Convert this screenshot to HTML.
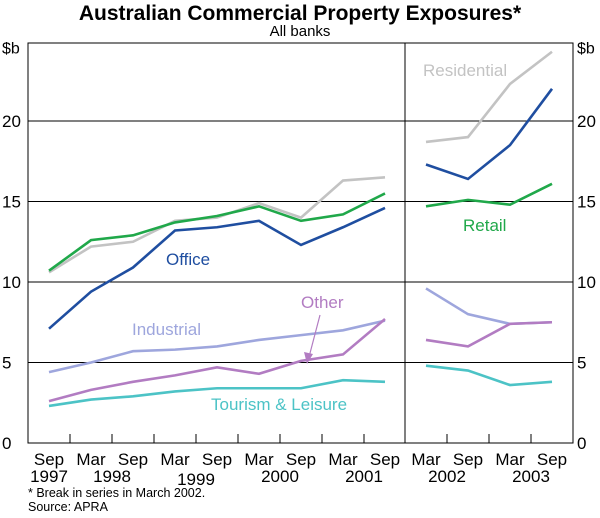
<!DOCTYPE html>
<html><head><meta charset="utf-8"><style>
body{margin:0;background:#fff}
svg text{font-family:"Liberation Sans",Arial,sans-serif}
</style></head><body>
<svg id="c" width="600" height="513" viewBox="0 0 600 513" xmlns="http://www.w3.org/2000/svg">
<text x="300" y="20" text-anchor="middle" font-size="21" font-weight="bold">Australian Commercial Property Exposures*</text>
<text x="300" y="36" text-anchor="middle" font-size="15">All banks</text>
<g id="grid"></g>
<g id="series"></g>
<g id="labels"></g>
<text x="28" y="497" font-size="12.5">* Break in series in March 2002.</text>
<text x="28" y="511" font-size="12.5">Source: APRA</text>
</svg>
<script>
const leftCats=["Sep","Mar","Sep","Mar","Sep","Mar","Sep","Mar","Sep"];
const rightCats=["Mar","Sep","Mar","Sep"];
const leftYears=["1997","1998","1999","2000","2001"];
const rightYears=["2002","2003"];
const yTicks=[0,5,10,15,20];
const officeL=[7.1,9.4,10.9,13.2,13.4,13.8,12.3,13.4,14.6];
const officeR=[17.3,16.4,18.5,22.0];
const retailL=[10.7,12.6,12.9,13.7,14.1,14.7,13.8,14.2,15.5];
const retailR=[14.7,15.1,14.8,16.1];
const residentialL=[10.6,12.2,12.5,13.8,14.0,14.9,14.0,16.3,16.5];
const residentialR=[18.7,19.0,22.3,24.3];
const industrialL=[4.4,5.0,5.7,5.8,6.0,6.4,6.7,7.0,7.6];
const industrialR=[9.6,8.0,7.4,7.5];
const otherL=[2.6,3.3,3.8,4.2,4.7,4.3,5.1,5.5,7.7];
const otherR=[6.4,6.0,7.4,7.5];
const tourismL=[2.3,2.7,2.9,3.2,3.4,3.4,3.4,3.9,3.8];
const tourismR=[4.8,4.5,3.6,3.8];

const NS="http://www.w3.org/2000/svg";
const X0=28,X1=573,XD=405,Y0=443,YT=43;
const y=v=>Y0-v*16.1;
const xl=i=>49+i*42;
const xr=i=>426+i*42;
function mk(tag,attrs,parent){const e=document.createElementNS(NS,tag);for(const k in attrs)e.setAttribute(k,attrs[k]);parent.appendChild(e);return e;}
const grid=document.getElementById('grid'),ser=document.getElementById('series'),lab=document.getElementById('labels');
yTicks.forEach(t=>{
 if(t>0){const g=mk('line',{x1:X0,x2:X1,y1:y(t),y2:y(t),stroke:'#000','stroke-width':1},grid);
 
 }
 const a=mk('text',{x:2,y:y(t)+6,'font-size':17},lab);a.textContent=t;
 
 
 const b=mk('text',{x:577,y:y(t)+6,'font-size':17},lab);b.textContent=t;
 
 
});
[[2,'left'],[577,'right']].forEach(([x,s])=>{const u=mk('text',{x:x,y:y(25)+13,'font-size':16},lab);u.textContent='$b';
 
 });
const fr=mk('rect',{x:X0,y:YT,width:X1-X0,height:Y0-YT,fill:'none',stroke:'#000','stroke-width':1},grid);


const dv=mk('line',{x1:XD,x2:XD,y1:YT,y2:Y0,stroke:'#000'},grid);


for(let i=0;i<leftCats.length-1;i++){const t=mk('line',{x1:xl(i)+21,x2:xl(i)+21,y1:Y0,y2:Y0-9,stroke:'#000'},grid);
 
 }
for(let i=0;i<rightCats.length-1;i++){const t=mk('line',{x1:xr(i)+21,x2:xr(i)+21,y1:Y0,y2:Y0-9,stroke:'#000'},grid);
 
 }
function mlabels(cats,xf){cats.forEach((m,i)=>{
 const t=mk('text',{x:xf(i),y:465,'text-anchor':'middle','font-size':17},lab);t.textContent=m;
 
 });}
mlabels(leftCats,xl);mlabels(rightCats,xr);
leftYears.forEach((yr,i)=>{const xx=i===0?xl(0):xl(2*i-1)+21;
 const t=mk('text',{x:xx,y:yr==='1999'?485:482,'text-anchor':'middle','font-size':17},lab);t.textContent=yr;
 
 });
rightYears.forEach((yr,i)=>{const xx=xr(2*i)+21;
 const t=mk('text',{x:xx,y:482,'text-anchor':'middle','font-size':17},lab);t.textContent=yr;
 
 });
function line(vals,xf,color,name){const p=vals.map((v,i)=>xf(i)+','+y(v)).join(' ');
 const e=mk('polyline',{points:p,fill:'none',stroke:color,'stroke-width':2.6,'stroke-linejoin':'miter'},ser);
 
 }
const S=[[residentialL,residentialR,'#c3c3c3','residential'],[retailL,retailR,'#20a84a','retail'],[officeL,officeR,'#1f4ea0','office'],[industrialL,industrialR,'#9ea6dd','industrial'],[otherL,otherR,'#b27cc2','other'],[tourismL,tourismR,'#4cc3c6','tourism-leisure']];
S.forEach(s=>{line(s[0],xl,s[2],s[3]+'-line-1997-2001');line(s[1],xr,s[2],s[3]+'-line-2002-2003');});
function label(txt,x,yy,color,name){const t=mk('text',{x:x,y:yy,'font-size':17,fill:color},lab);t.textContent=txt;
 
 }
label('Residential',423,76,'#c3c3c3','residential-label');
label('Retail',463,231,'#20a84a','retail-label');
label('Office',166,265,'#1f4ea0','office-label');
label('Industrial',132,335,'#9ea6dd','industrial-label');
label('Other',301,308,'#b27cc2','other-label');
label('Tourism & Leisure',211,410,'#4cc3c6','tourism-leisure-label');
const ar=mk('line',{x1:320,y1:315,x2:309,y2:357,stroke:'#b27cc2','stroke-width':1.2},lab);


const ah=mk('polygon',{points:'307,364 304,352 313,354',fill:'#b27cc2'},lab);


</script>
</body></html>
